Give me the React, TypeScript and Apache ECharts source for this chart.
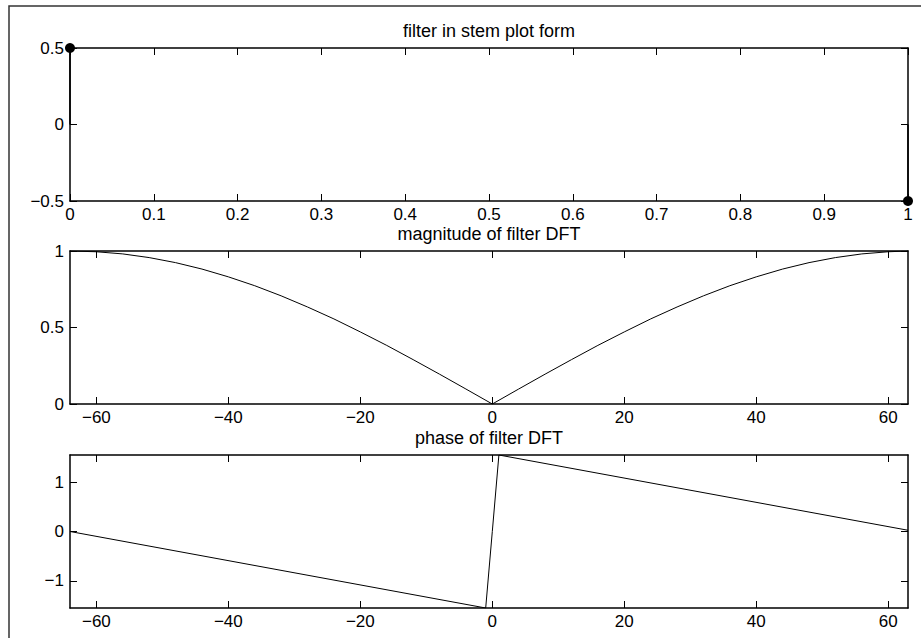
import React, { useEffect, useRef } from "react";
import * as echarts from "echarts";

// ---- data ----
const stemX = [0, 1];
const stemY = [0.5, -0.5];
const stemXTickStep = 0.1;
const stemYTickStep = 0.5;

const freqX = [
  -64, -60, -56, -52, -48, -44, -40, -36, -32, -28, -24, -20, -16, -12, -8, -4,
  0, 4, 8, 12, 16, 20, 24, 28, 32, 36, 40, 44, 48, 52, 56, 60, 63,
];
const magnitude = [
  1.0, 0.995, 0.981, 0.957, 0.924, 0.882, 0.831, 0.773, 0.707, 0.634, 0.556, 0.471, 0.383, 0.29, 0.195, 0.098,
  0, 0.098, 0.195, 0.29, 0.383, 0.471, 0.556, 0.634, 0.707, 0.773, 0.831, 0.882, 0.924, 0.957, 0.981, 0.995, 1.0,
];
const phaseX = [-64, -1, 0, 1, 63];
const phase = [0, -1.546, 0, 1.546, 0.025];

const freqTicks = [-60, -40, -20, 0, 20, 40, 60];
const magTickStep = 0.5;
const phaseTicks = [-1, 0, 1];

const titles = ["filter in stem plot form", "magnitude of filter DFT", "phase of filter DFT"];

// ---- layout ----
const FONT = "'Liberation Sans', Arial, Helvetica, sans-serif";
const FS = 17;
const TITLE_FS = 18;
const LEFT = 70;
const WIDTH = 838;
const HEIGHT = 153;
const TOPS = [48, 251, 455];

const fmt = (v: number) => {
  const s = String(Math.round(v * 1000) / 1000);
  return s.replace("-", "\u2212");
};

function axisPair(dim: "x" | "y", gridIndex: number, min: number, max: number, ticks?: number[], interval?: number) {
  const base = (primary: boolean) => {
    const o: any = {
      type: "value",
      gridIndex,
      min,
      max,
      position: dim === "x" ? (primary ? "bottom" : "top") : primary ? "left" : "right",
      splitLine: { show: false },
      axisLine: { show: true, onZero: false, lineStyle: { color: "#000", width: 1.5 } },
      axisTick: { show: true, inside: true, length: 7, lineStyle: { color: "#000", width: 1 } },
      axisLabel: {
        show: primary,
        color: "#000",
        fontSize: FS,
        fontFamily: FONT,
        margin: dim === "x" ? 5 : 6,
        formatter: fmt,
        showMinLabel: true,
        showMaxLabel: true,
      },
    };
    if (ticks) {
      o.axisTick.customValues = ticks;
      o.axisLabel.customValues = ticks;
    }
    if (interval !== undefined) o.interval = interval;
    return o;
  };
  return [base(true), base(false)];
}

export default function App() {
  const ref = useRef<HTMLDivElement>(null);
  useEffect(() => {
    if (!ref.current) return;
    const chart = echarts.init(ref.current, undefined, { renderer: "svg" });
    const fMin = Math.min(...freqX);
    const fMax = Math.max(...freqX);
    const pMin = Math.min(...phase);
    const pMax = Math.max(...phase);

    const xAxis = [
      ...axisPair("x", 0, Math.min(...stemX), Math.max(...stemX), undefined, stemXTickStep),
      ...axisPair("x", 1, fMin, fMax, freqTicks),
      ...axisPair("x", 2, fMin, fMax, freqTicks),
    ];
    const yAxis = [
      ...axisPair("y", 0, -0.5, 0.5, undefined, stemYTickStep),
      ...axisPair("y", 1, 0, 1, undefined, magTickStep),
      ...axisPair("y", 2, pMin, pMax, phaseTicks),
    ];

    const option: any = {
      animation: false,
      backgroundColor: "#fff",
      grid: TOPS.map((t) => ({ left: LEFT, top: t, width: WIDTH, height: HEIGHT })),
      xAxis,
      yAxis,
      graphic: [
        {
          type: "rect",
          silent: true,
          shape: { x: 9, y: 6, width: 1000, height: 1000 },
          style: { fill: "none", stroke: "#333", lineWidth: 1.5 },
        },
        ...titles.map((t, i) => ({
          type: "text",
          x: LEFT + WIDTH / 2,
          y: TOPS[i] - 17,
          style: {
            text: t,
            fontSize: TITLE_FS,
            fontFamily: FONT,
            fill: "#000",
            align: "center",
            verticalAlign: "middle",
          },
        })),
      ],
      series: [
        {
          type: "custom",
          coordinateSystem: "cartesian2d",
          xAxisIndex: 0,
          yAxisIndex: 0,
          clip: false,
          z: 10,
          data: stemX.map((x, i) => [x, stemY[i]]),
          renderItem: (params: any, api: any) => {
            const x = api.value(0);
            const y = api.value(1);
            const b = api.coord([x, 0]);
            const p = api.coord([x, y]);
            return {
              type: "group",
              children: [
                { type: "line", shape: { x1: b[0], y1: b[1], x2: p[0], y2: p[1] }, style: { stroke: "#000", lineWidth: 1.5 } },
                { type: "circle", shape: { cx: p[0], cy: p[1], r: 5 }, style: { fill: "#000" } },
              ],
            };
          },
        },
        {
          type: "line",
          xAxisIndex: 2,
          yAxisIndex: 2,
          symbol: "none",
          lineStyle: { color: "#000", width: 1 },
          data: freqX.map((x, i) => [x, magnitude[i]]),
        },
        {
          type: "line",
          xAxisIndex: 4,
          yAxisIndex: 4,
          symbol: "none",
          lineStyle: { color: "#000", width: 1 },
          data: phaseX.map((x, i) => [x, phase[i]]),
        },
      ],
    };
    chart.setOption(option);
    return () => chart.dispose();
  }, []);
  return (
    <div
      ref={ref}
      style={{ position: "fixed", left: 0, top: 0, width: 921, height: 638, background: "#fff" }}
    />
  );
}
